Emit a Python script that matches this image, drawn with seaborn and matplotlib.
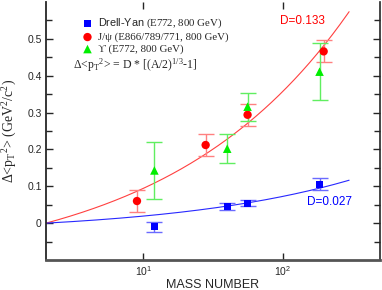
import numpy as np
import matplotlib
matplotlib.use("Agg")
import matplotlib.pyplot as plt
import seaborn as sns

# Drell-Yan (E772, 800 GeV)
dy_A = [12, 40, 56, 184]
dy_y = [-0.010, 0.046, 0.054, 0.106]
dy_err = [0.014, 0.009, 0.008, 0.017]

# J/psi (E866/789/771, 800 GeV)
jp_A = [9, 28, 56, 197]
jp_y = [0.060, 0.212, 0.294, 0.466]
jp_err = [0.029, 0.030, 0.030, 0.030]

# Upsilon (E772, 800 GeV)
up_A = [12, 40, 56, 184]
up_y = [0.143, 0.202, 0.316, 0.411]
up_err = [0.077, 0.040, 0.038, 0.078]

# fit parameters D for  D*[(A/2)^(1/3)-1]
D_psi = 0.133
D_dy = 0.027

sns.set_style("ticks")
plt.rcParams["font.family"] = ["Liberation Serif", "DejaVu Serif"]
plt.rcParams["mathtext.fontset"] = "custom"
plt.rcParams["mathtext.rm"] = "Liberation Serif"
plt.rcParams["mathtext.it"] = "Liberation Serif:italic"
plt.rcParams["mathtext.sf"] = "Liberation Sans"

fig = plt.figure(figsize=(3.82, 2.90), dpi=100)
ax = fig.add_axes([46/382, 30/290, 334/382, 258/290])

A_fit = np.logspace(np.log10(2), np.log10(300), 200)
sns.lineplot(x=A_fit, y=D_psi * ((A_fit / 2) ** (1/3) - 1), color="#ff4040", lw=0.8, ax=ax)
sns.lineplot(x=A_fit, y=D_dy * ((A_fit / 2) ** (1/3) - 1), color="#2828ff", lw=0.8, ax=ax)

ax.errorbar(dy_A, dy_y, yerr=dy_err, fmt="none", ecolor="#6a6aff", elinewidth=1, capsize=5.5, capthick=1)
ax.errorbar(jp_A, jp_y, yerr=jp_err, fmt="none", ecolor="#ff8080", elinewidth=1, capsize=5.5, capthick=1)
ax.errorbar(up_A, up_y, yerr=up_err, fmt="none", ecolor="#60ee60", elinewidth=1, capsize=5.5, capthick=1)

sns.scatterplot(x=dy_A, y=dy_y, marker="s", s=26, color="#0000ff", edgecolor="none", ax=ax, zorder=5,
                label=r"$\mathsf{Drell}$-$\mathsf{Yan}$ (E772, 800 GeV)")
sns.scatterplot(x=jp_A, y=jp_y, marker="o", s=36, color="#ff0000", edgecolor="none", ax=ax, zorder=5,
                label="J/ψ (E866/789/771, 800 GeV)")
sns.scatterplot(x=up_A, y=up_y, marker="^", s=38, color="#00ee00", edgecolor="none", ax=ax, zorder=5,
                label="ϒ (E772, 800 GeV)")

ax.set_xscale("log")
ax.set_xlim(2, 500)
ax.set_ylim(-0.1, 0.6)
ax.set_yticks([0, 0.1, 0.2, 0.3, 0.4, 0.5])
ax.set_yticklabels(["0", "0.1", "0.2", "0.3", "0.4", "0.5"])
ax.set_yticks(np.arange(-0.05, 0.6, 0.1), minor=True)
ax.set_xticks([10, 100])
ax.set_xticklabels([r"$\mathsf{10^1}$", r"$\mathsf{10^2}$"])
ax.xaxis.set_minor_locator(matplotlib.ticker.NullLocator())
ax.tick_params(which="both", direction="in", top=True, right=True, labelsize=7.5, pad=3)
ax.tick_params(which="major", length=5, width=1)
ax.tick_params(which="minor", length=4, width=1)
for lab in ax.get_yticklabels():
    lab.set_family("Liberation Sans")
ax.spines["top"].set_visible(False)
ax.spines["left"].set_linewidth(1.3)
ax.spines["bottom"].set_linewidth(2)
ax.spines["bottom"].set_color("#555555")
ax.spines["right"].set_linewidth(1.2)

ax.set_xlabel("MASS NUMBER", family="Liberation Sans", fontsize=9, labelpad=1)
ax.set_ylabel(r"Δ<p$_\mathrm{T}$$^2$> (GeV$^2$/c$^2$)", fontsize=10, labelpad=6)

ax.legend(loc="upper left", bbox_to_anchor=(0.095, 0.96), frameon=False, fontsize=7.8,
          handletextpad=0.5, labelspacing=0.2, borderaxespad=0, handlelength=1.0)
ax.text(0.08, 0.74, r"Δ<p$_\mathrm{T}$$^2$> = D * [(A/2)$^{1/3}$-1]", transform=ax.transAxes, fontsize=8.5)
ax.text(0.70, 0.915, "D=0.133", color="#ff0000", family="Liberation Sans", fontsize=8.5, transform=ax.transAxes)
ax.text(0.78, 0.215, "D=0.027", color="#0000ff", family="Liberation Sans", fontsize=8.5, transform=ax.transAxes)

fig.savefig("out.png", dpi=100)
